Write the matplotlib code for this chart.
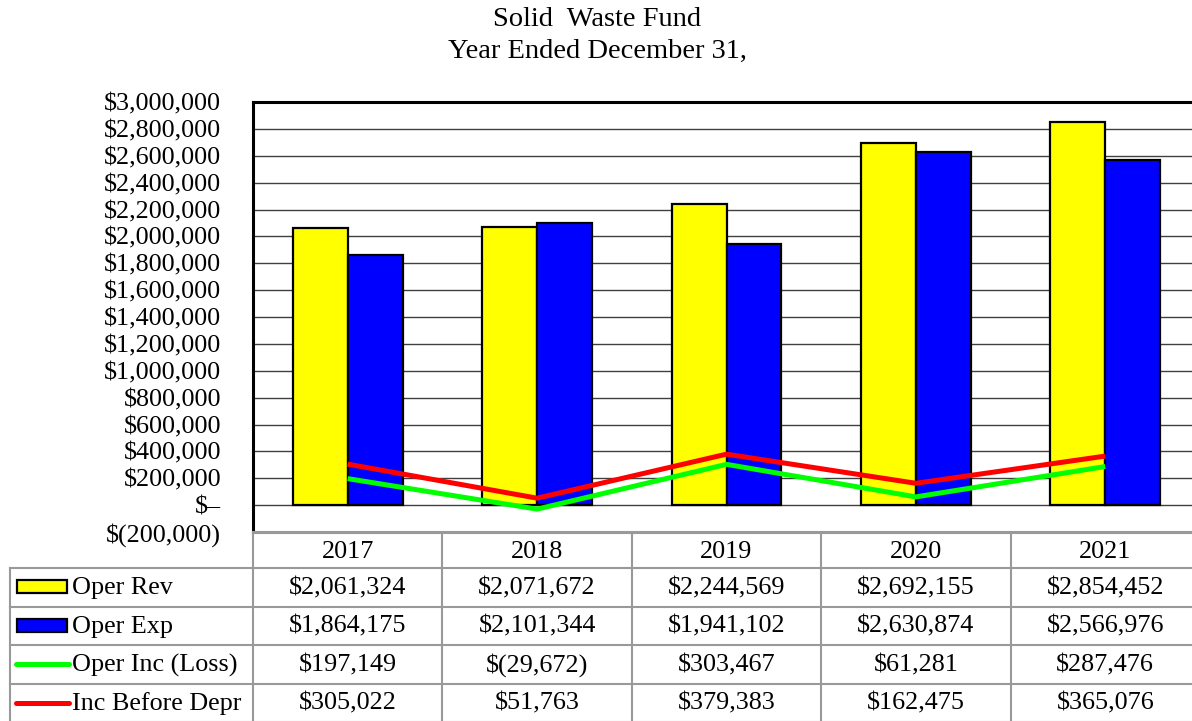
import numpy as np
import matplotlib
matplotlib.use('Agg')
import matplotlib.pyplot as plt
from matplotlib.patches import Rectangle
from matplotlib.ticker import FuncFormatter, MultipleLocator

# Dữ liệu
years = ['2017', '2018', '2019', '2020', '2021']
oper_rev = [2061324, 2071672, 2244569, 2692155, 2854452]
oper_exp = [1864175, 2101344, 1941102, 2630874, 2566976]
oper_inc = [197149, -29672, 303467, 61281, 287476]
inc_before_depr = [305022, 51763, 379383, 162475, 365076]

series_names = ['Oper Rev', 'Oper Exp', 'Oper Inc (Loss)', 'Inc Before Depr']
series_vals = [oper_rev, oper_exp, oper_inc, inc_before_depr]
series_colors = ['#ffff00', '#0000ff', '#00ff00', '#ff0000']
series_kind = ['bar', 'bar', 'line', 'line']

plt.rcParams['font.family'] = ['Liberation Serif', 'DejaVu Serif']
FS = 18.8

W, H = 1192, 721
fig = plt.figure(figsize=(W / 100, H / 100), dpi=100)


def money(v, pos=None):
    if v == 0:
        return '$\u2013'
    if v < 0:
        return '$({:,.0f})'.format(-v)
    return '${:,.0f}'.format(v)


# Biểu đồ chính
left, right, top, bottom = 253, 1200, 102, 532
ax = fig.add_axes([left / W, 1 - bottom / H, (right - left) / W, (bottom - top) / H])
x = np.arange(len(years))
bw = 0.29
ax.bar(x - bw / 2, oper_rev, bw, color=series_colors[0], edgecolor='black', linewidth=1.6, zorder=3)
ax.bar(x + bw / 2, oper_exp, bw, color=series_colors[1], edgecolor='black', linewidth=1.6, zorder=3)
ax.plot(x, oper_inc, color=series_colors[2], lw=3.6, zorder=4, solid_capstyle='butt')
ax.plot(x, inc_before_depr, color=series_colors[3], lw=3.6, zorder=4, solid_capstyle='butt')

ax.set_xlim(-0.5, len(years) - 0.5)
ax.set_ylim(-200000, 3000000)
ax.yaxis.set_major_locator(MultipleLocator(200000))
ax.yaxis.set_major_formatter(FuncFormatter(money))
ax.grid(axis='y', color='#404040', lw=1.0, zorder=0)
ax.set_xticks([])
ax.tick_params(axis='y', length=0, pad=23, labelsize=FS)
for s in ['left', 'top']:
    ax.spines[s].set_linewidth(2.2)
    ax.spines[s].set_color('black')
ax.spines['bottom'].set_color('#999999')
ax.spines['bottom'].set_linewidth(1.5)
ax.spines['right'].set_visible(False)

fig.text(597 / W, 1 - 19 / H, 'Solid  Waste Fund', ha='center', va='center', fontsize=20.5)
fig.text(597 / W, 1 - 51 / H, 'Year Ended December 31,', ha='center', va='center', fontsize=20.5)

# Bảng dữ liệu
col_w = (right - left) / len(years)
tleft, ttop = 10, 533
xmin = -0.5 - (left - tleft) / col_w
tax = fig.add_axes([tleft / W, 0, (right - tleft) / W, (H - ttop) / H])
tax.set_xlim(xmin, len(years) - 0.5)
tax.set_ylim(H - ttop, 0)
tax.axis('off')

grid_c = '#999999'
row_edges = [0, 35, 73.5, 112, 150.5, 189]
tax.plot([-0.5, len(years) - 0.5], [0, 0], color=grid_c, lw=1.5, clip_on=False)
for yy in row_edges[1:]:
    tax.plot([xmin, len(years) - 0.5], [yy, yy], color=grid_c, lw=1.5, clip_on=False)
tax.plot([xmin, xmin], [row_edges[1], row_edges[-1]], color=grid_c, lw=1.5, clip_on=False)
for k in range(len(years) + 1):
    tax.plot([k - 0.5, k - 0.5], [0, row_edges[-1]], color=grid_c, lw=1.5, clip_on=False)

for i, yr in enumerate(years):
    tax.text(i, row_edges[1] / 2 + 1, yr, ha='center', va='center', fontsize=FS)

px = 1 / col_w
for r, (name, vals, c, kind) in enumerate(zip(series_names, series_vals, series_colors, series_kind)):
    yc = (row_edges[r + 1] + row_edges[r + 2]) / 2
    if kind == 'bar':
        tax.add_patch(Rectangle((xmin + 7 * px, yc - 7), 50 * px, 13, facecolor=c,
                                edgecolor='black', lw=1.6, clip_on=False))
    else:
        tax.plot([xmin + 6 * px, xmin + 59 * px], [yc, yc], color=c, lw=3.6,
                 solid_capstyle='round', clip_on=False)
    tax.text(xmin + 62 * px, yc + 1, name, ha='left', va='center', fontsize=FS)
    for i, v in enumerate(vals):
        tax.text(i, yc + 1, money(v), ha='center', va='center', fontsize=FS)

fig.savefig('out.png', dpi=100)
